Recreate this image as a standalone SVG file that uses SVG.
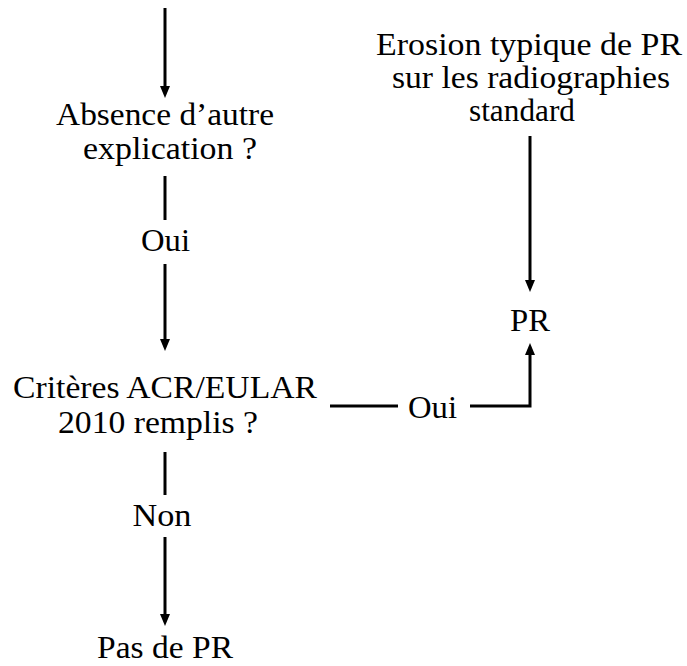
<svg xmlns="http://www.w3.org/2000/svg" width="687" height="666" viewBox="0 0 687 666">
  <defs>
    <style>
      .t { font-family: "Liberation Serif", "Times New Roman", serif; font-size: 31px; fill: #000; text-anchor: middle; }
      .c { stroke: #000; stroke-width: 3; fill: none; }
    </style>
    <marker id="ah" viewBox="0 0 12 10" refX="6" refY="5" markerWidth="12" markerHeight="10" markerUnits="userSpaceOnUse" orient="auto">
      <path d="M0,0 L12,5 L0,10 z" fill="#000"/>
    </marker>
  </defs>
  <rect width="687" height="666" fill="#fff"/>

  <g id="connectors">
    <line class="c" x1="165" y1="8" x2="165" y2="92" marker-end="url(#ah)"/>
    <line class="c" x1="165" y1="176" x2="165" y2="220"/>
    <line class="c" x1="165" y1="264" x2="165" y2="345" marker-end="url(#ah)"/>
    <line class="c" x1="165" y1="452" x2="165" y2="495"/>
    <line class="c" x1="165" y1="537" x2="165" y2="620" marker-end="url(#ah)"/>
    <line class="c" x1="530" y1="136" x2="530" y2="286" marker-end="url(#ah)"/>
    <line class="c" x1="330" y1="406" x2="398" y2="406"/>
    <path class="c" d="M470,406 H530 V349" marker-end="url(#ah)"/>
    <text class="t" x="165.5" y="251" textLength="49" lengthAdjust="spacingAndGlyphs">Oui</text>
    <text class="t" x="162" y="526" textLength="59" lengthAdjust="spacingAndGlyphs">Non</text>
    <text class="t" x="432.5" y="418" textLength="49" lengthAdjust="spacingAndGlyphs">Oui</text>
  </g>

  <g id="node-absence">
    <text class="t" x="165" y="125" textLength="218" lengthAdjust="spacingAndGlyphs">Absence d’autre</text>
    <text class="t" x="170" y="159" textLength="174" lengthAdjust="spacingAndGlyphs">explication ?</text>
  </g>

  <g id="node-erosion">
    <text class="t" x="529" y="55" textLength="306" lengthAdjust="spacingAndGlyphs">Erosion typique de PR</text>
    <text class="t" x="531" y="88" textLength="278" lengthAdjust="spacingAndGlyphs">sur les radiographies</text>
    <text class="t" x="522" y="121" textLength="106" lengthAdjust="spacingAndGlyphs">standard</text>
  </g>

  <g id="node-pr">
    <text class="t" x="530" y="331" textLength="40" lengthAdjust="spacingAndGlyphs">PR</text>
  </g>

  <g id="node-criteres">
    <text class="t" x="165" y="398" textLength="304" lengthAdjust="spacingAndGlyphs">Critères ACR/EULAR</text>
    <text class="t" x="158" y="433" textLength="200" lengthAdjust="spacingAndGlyphs">2010 remplis ?</text>
  </g>

  <g id="node-pas-de-pr">
    <text class="t" x="165" y="658" textLength="136" lengthAdjust="spacingAndGlyphs">Pas de PR</text>
  </g>
</svg>
